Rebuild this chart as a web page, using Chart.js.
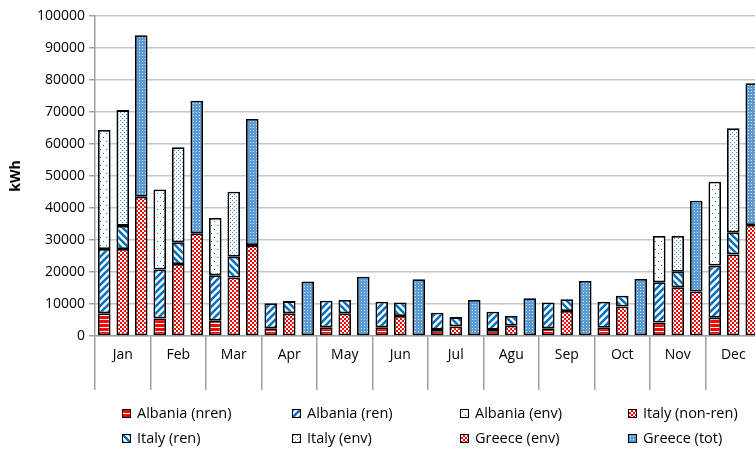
<!DOCTYPE html>
<html>
<head>
<meta charset="utf-8">
<script src="https://cdn.jsdelivr.net/npm/chart.js@4.4.1/dist/chart.umd.min.js"></script>
<style>
  html, body { margin: 0; padding: 0; background: #fff; overflow: hidden; width: 755px; height: 450px; }
  #wrap { position: absolute; left: 0; top: 0; width: 761px; height: 392px; }
  #legend { position: absolute; left: 0; top: 0; width: 755px; height: 450px; pointer-events: none;
            font-family: "Open Sans", sans-serif; font-size: 14.5px; line-height: 20px; color: #000; }
  .item { position: absolute; display: flex; align-items: center; white-space: nowrap; height: 20px; }
  .box { width: 7px; height: 7px; border: 1.5px solid #000; margin-right: 6px; }
</style>
</head>
<body>
<div id="wrap"><canvas id="c" width="761" height="392"></canvas></div>
<div id="legend"></div>
<script>
// ---- data ----
const months = ["Jan","Feb","Mar","Apr","May","Jun","Jul","Agu","Sep","Oct","Nov","Dec"];
const seriesLabels = ["Albania (nren)","Albania (ren)","Albania (env)","Italy (non-ren)","Italy (ren)","Italy (env)","Greece (env)","Greece (tot)"];
const albaniaNren = [7100,5500,4800,2400,2700,2700,1900,1900,2400,2600,4200,5700];
const albaniaRen  = [20100,15300,14200,7800,8300,8000,5400,5700,8100,8100,12600,16300];
const albaniaEnv  = [37200,25000,17900,null,null,null,null,null,null,null,14450,26200];
const italyNonRen = [27200,22500,18300,7100,7100,6250,3000,3200,7800,9200,15200,25500];
const italyRen    = [7200,6800,6500,3800,4150,4250,2900,3050,3700,3400,4900,6900];
const italyEnv    = [36200,29700,20300,null,null,null,null,null,null,null,11150,32500];
const greeceEnv   = [43500,32100,28400,null,null,null,null,null,null,null,13900,34700];
const greeceTot   = [50500,41400,39400,17000,18500,17700,11250,11800,17200,17800,28400,44300];
const yTicks = [0,10000,20000,30000,40000,50000,60000,70000,80000,90000,100000];

// ---- patterns ----
const canvas = document.getElementById('c');
const ctx = canvas.getContext('2d');
const RED = '#ff0000', BLUE = '#0070c0', LBLUE = '#5b9bd5';
function tile(w, h, draw) {
  const c = document.createElement('canvas'); c.width = w; c.height = h;
  const x = c.getContext('2d'); draw(x, w, h); return c;
}
const tiles = {
  hstripe: tile(4, 4, (x) => { x.fillStyle = '#fff'; x.fillRect(0,0,4,4); x.fillStyle = RED; x.fillRect(0,0,4,3); }),
  diagUp: tile(7, 7, (x) => { x.fillStyle = '#fff'; x.fillRect(0,0,7,7); x.strokeStyle = BLUE; x.lineWidth = 2.6;
    x.beginPath(); x.moveTo(-1,8); x.lineTo(8,-1); x.moveTo(-5,5); x.lineTo(5,-5); x.moveTo(2,12); x.lineTo(12,2); x.stroke(); }),
  diagDown: tile(7, 7, (x) => { x.fillStyle = '#fff'; x.fillRect(0,0,7,7); x.strokeStyle = BLUE; x.lineWidth = 2.6;
    x.beginPath(); x.moveTo(-1,-1); x.lineTo(8,8); x.moveTo(-5,2); x.lineTo(5,12); x.moveTo(2,-5); x.lineTo(12,5); x.stroke(); }),
  sparseDots: tile(6, 8, (x) => { x.fillStyle = '#fff'; x.fillRect(0,0,6,8); x.fillStyle = BLUE; x.fillRect(1,1,1,1); x.fillRect(4,5,1,1); }),
  denseDots: tile(4, 4, (x) => { x.fillStyle = '#fff'; x.fillRect(0,0,4,4); x.fillStyle = '#3a86cc'; x.fillRect(0,0,1,1); x.fillRect(2,2,1,1); }),
  checker: tile(4, 4, (x) => { x.fillStyle = RED; x.fillRect(0,0,4,4); x.fillStyle = '#fff'; x.fillRect(0,0,2,2); x.fillRect(2,2,2,2); }),
  blueDots: tile(3, 3, (x) => { x.fillStyle = LBLUE; x.fillRect(0,0,3,3); x.fillStyle = '#d8e8f6'; x.fillRect(1,1,1,1); })
};
const pat = (t) => ctx.createPattern(tiles[t], 'repeat');
const seriesTiles = ['hstripe','diagUp','sparseDots','checker','diagDown','denseDots','checker','blueDots'];
const seriesData = [albaniaNren, albaniaRen, albaniaEnv, italyNonRen, italyRen, italyEnv, greeceEnv, greeceTot];
const seriesStack = ['A','A','A','I','I','I','G','G'];

const datasets = seriesLabels.map((lab, i) => ({
  label: lab,
  data: seriesData[i],
  stack: seriesStack[i],
  backgroundColor: pat(seriesTiles[i]),
  borderColor: '#000',
  borderWidth: 1.8,
  borderSkipped: false,
  barPercentage: 0.68,
  categoryPercentage: 1.0
}));

const FONT = { family: '"Open Sans", sans-serif', size: 14 };
const GRID = '#c6c6c6', AXIS = '#a0a0a0';

new Chart(ctx, {
  type: 'bar',
  data: { labels: months, datasets },
  options: {
    responsive: false,
    devicePixelRatio: 1,
    animation: false,
    layout: { padding: { top: 16, left: 0, right: 0, bottom: 0 } },
    plugins: { legend: { display: false }, tooltip: { enabled: false } },
    scales: {
      x: {
        stacked: true,
        offset: true,
        grid: { display: true, drawOnChartArea: false, offset: true, tickLength: 54, color: AXIS, lineWidth: 1.5 },
        border: { color: AXIS, width: 1.5 },
        ticks: { padding: -43, color: '#000', font: FONT, maxRotation: 0 },
        afterFit: (s) => { s.height = 56; }
      },
      y: {
        stacked: true,
        min: 0, max: 100000,
        afterBuildTicks: (s) => { s.ticks = yTicks.map(v => ({ value: v })); },
        grid: { color: GRID, lineWidth: 1.5, tickLength: 6, tickColor: AXIS },
        border: { color: AXIS, width: 1.5 },
        ticks: { color: '#000', font: FONT, padding: 4, callback: (v) => String(v) },
        title: { display: true, text: 'kWh', color: '#000', font: { family: FONT.family, size: 14, weight: 'bold' }, padding: { top: 8, bottom: 0 } },
        afterFit: (s) => { s.width = 95; }
      }
    }
  }
});

// ---- legend (HTML text) ----
const legend = document.getElementById('legend');
const colX = [122, 292, 460, 628];
const rowY = [403, 428];
seriesLabels.forEach((lab, i) => {
  const it = document.createElement('div');
  it.className = 'item';
  it.style.left = colX[i % 4] + 'px';
  it.style.top = rowY[Math.floor(i / 4)] + 'px';
  const b = document.createElement('div');
  b.className = 'box';
  b.style.backgroundImage = 'url(' + tiles[seriesTiles[i]].toDataURL() + ')';
  const t = document.createElement('span');
  t.textContent = lab;
  it.appendChild(b); it.appendChild(t);
  legend.appendChild(it);
});
</script>
</body>
</html>
